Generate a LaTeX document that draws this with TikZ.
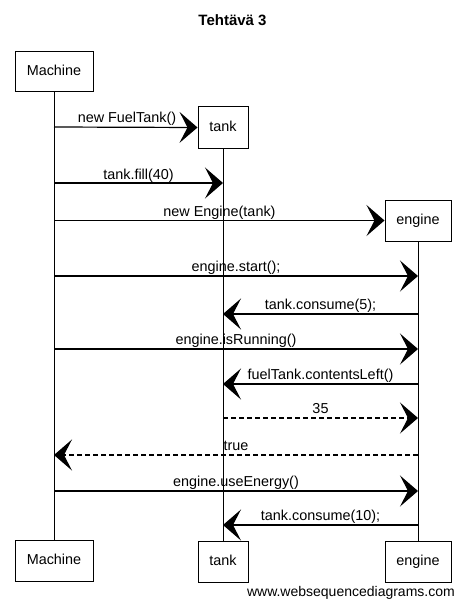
\documentclass[tikz,border=0pt]{standalone}
\usepackage{fontspec}
\setmainfont{Liberation Sans}
\usetikzlibrary{arrows.meta}
\begin{document}
\begin{tikzpicture}[x=1pt,y=-1pt,
  font=\fontsize{14.4}{16}\selectfont,
  actor/.style={draw, line width=1pt, minimum height=41pt, inner sep=0pt, text height=10pt, text depth=2pt},
  msg/.style={line width=1.2pt, -{Stealth[length=18pt,width=31pt,inset=8pt]}},
  ret/.style={msg, dash pattern=on 5pt off 3pt},
  life/.style={line width=0.9pt},
  lbl/.style={anchor=base, inner sep=0pt}]
\useasboundingbox (0,0) rectangle (465,607);
\node[font=\bfseries\fontsize{15}{18}\selectfont, anchor=base] (title) at (232.5,26) {Tehtävä 3};
% participants
\node[actor, minimum width=78pt, minimum height=40pt] (mT) at (54,72) {Machine};
\node[actor, minimum width=50pt] (tT) at (223,127.5) {tank};
\node[actor, minimum width=66pt] (eT) at (418,220.5) {engine};
\node[actor, minimum width=78pt] (mB) at (54,560.5) {Machine};
\node[actor, minimum width=50pt] (tB) at (223,561.5) {tank};
\node[actor, minimum width=66pt] (eB) at (418,561.5) {engine};
% lifelines
\draw[life] (mT.south) -- (mB.north);
\draw[life] (tT.south) -- (tB.north);
\draw[life] (eT.south) -- (eB.north);
% message end points
\coordinate (m1) at (54,127);
\coordinate (m2) at (54,183);
\coordinate (t2) at (223,183);
\coordinate (m3) at (54,220.5);
\coordinate (m4) at (54,276);
\coordinate (e4) at (418,276);
\coordinate (e5) at (418,314);
\coordinate (t5) at (223,314);
\coordinate (m6) at (54,349);
\coordinate (e6) at (418,349);
\coordinate (e7) at (418,384);
\coordinate (t7) at (223,384);
\coordinate (t8) at (223,418);
\coordinate (e8) at (418,418);
\coordinate (e9) at (418,455);
\coordinate (m9) at (54,455);
\coordinate (m10) at (54,491);
\coordinate (e10) at (418,491);
\coordinate (e11) at (418,525);
\coordinate (t11) at (223,525);
% messages
\draw[msg] (m1) -- (tT.west);
\node[lbl] (l1) at (127,122.5) {new FuelTank()};
\draw[msg] (m2) -- (t2);
\node[lbl] (l2) at (138.5,179) {tank.fill(40)};
\draw[msg] (m3) -- (eT.west);
\node[lbl] (l3) at (219.5,216) {new Engine(tank)};
\draw[msg] (m4) -- (e4);
\node[lbl] (l4) at (236,271.5) {engine.start();};
\draw[msg] (e5) -- (t5);
\node[lbl] (l5) at (320.5,309.5) {tank.consume(5);};
\draw[msg] (m6) -- (e6);
\node[lbl] (l6) at (236,344.5) {engine.isRunning()};
\draw[msg] (e7) -- (t7);
\node[lbl] (l7) at (320.5,379.5) {fuelTank.contentsLeft()};
\draw[ret] (t8) -- (e8);
\node[lbl] (l8) at (320.5,413.5) {35};
\draw[ret] (e9) -- (m9);
\node[lbl] (l9) at (236,450.5) {true};
\draw[msg] (m10) -- (e10);
\node[lbl] (l10) at (236,486.5) {engine.useEnergy()};
\draw[msg] (e11) -- (t11);
\node[lbl] (l11) at (320.5,520.5) {tank.consume(10);};
\node[anchor=base east, inner sep=0pt, font=\fontsize{14}{16}\selectfont] (wsd) at (455,596) {www.websequencediagrams.com};
\end{tikzpicture}
\end{document}
